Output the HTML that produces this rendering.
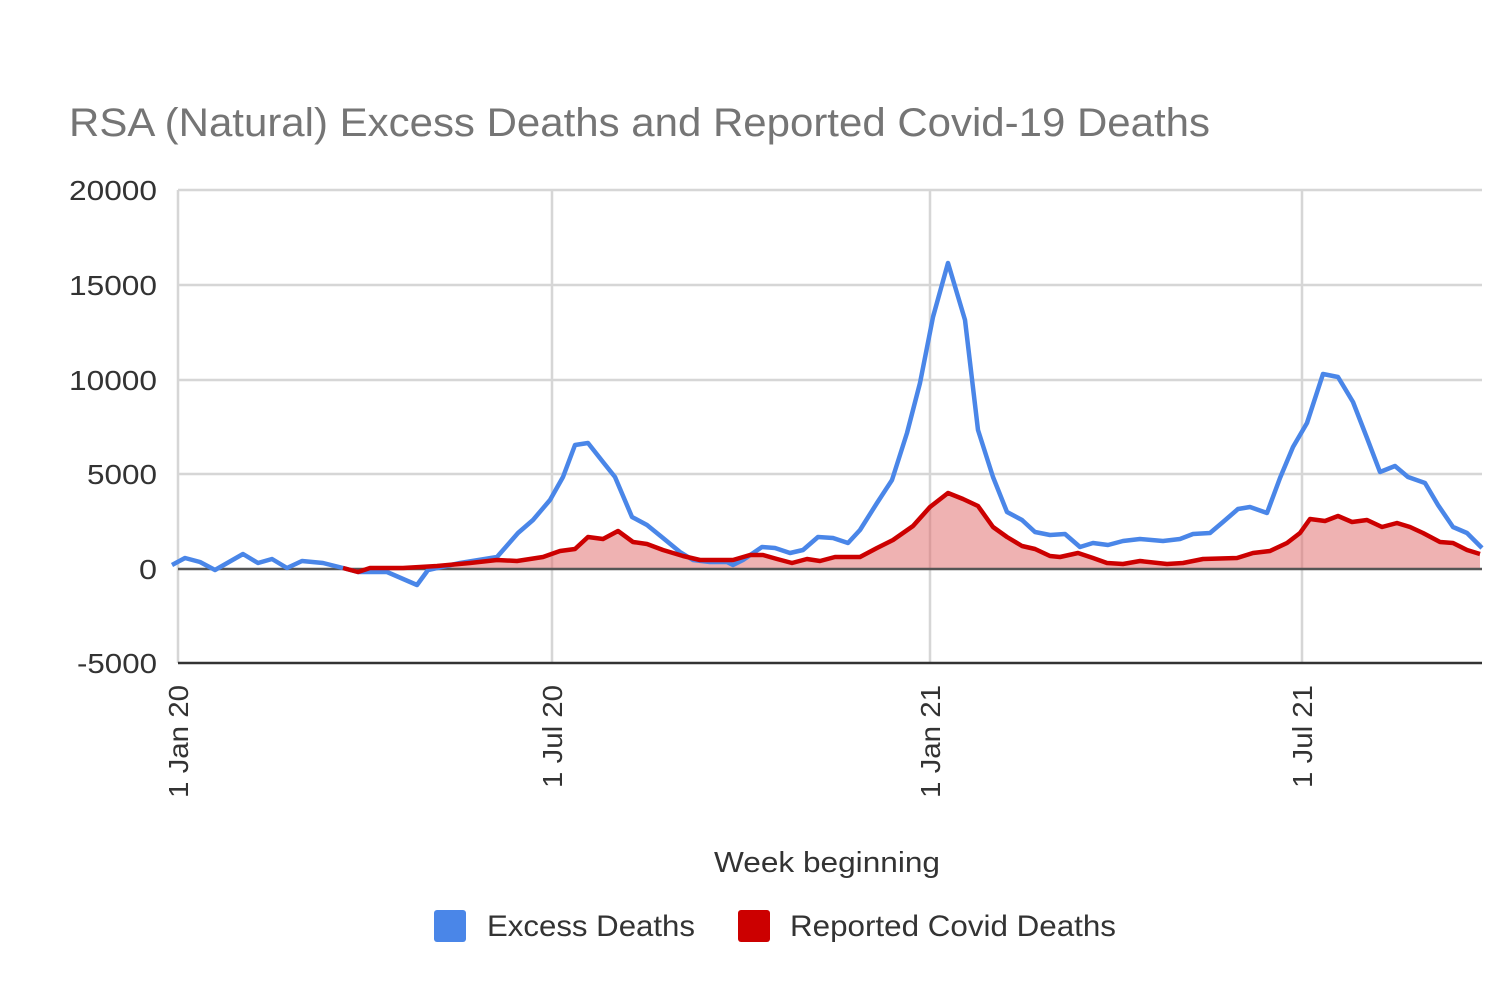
<!DOCTYPE html>
<html><head><meta charset="utf-8"><style>
body{margin:0;background:#fff;}
svg text{font-family:"Liberation Sans",Arial,sans-serif;}
</style></head><body>
<svg width="1500" height="1000" viewBox="0 0 1500 1000" xmlns="http://www.w3.org/2000/svg">
<rect width="1500" height="1000" fill="#fff"/>
<text x="69" y="136" font-size="40" fill="#757575" textLength="1141" lengthAdjust="spacingAndGlyphs">RSA (Natural) Excess Deaths and Reported Covid-19 Deaths</text>
<g stroke="#d6d6d6" stroke-width="2.5">
<line x1="178" y1="190" x2="1482" y2="190"/>
<line x1="178" y1="285" x2="1482" y2="285"/>
<line x1="178" y1="380" x2="1482" y2="380"/>
<line x1="178" y1="474" x2="1482" y2="474"/>
<line x1="178" y1="190" x2="178" y2="663"/>
<line x1="552" y1="190" x2="552" y2="663"/>
<line x1="930" y1="190" x2="930" y2="663"/>
<line x1="1302" y1="190" x2="1302" y2="663"/>
</g>
<g font-size="28" fill="#333">
<text x="69" y="200" textLength="88" lengthAdjust="spacingAndGlyphs">20000</text>
<text x="69" y="295" textLength="88" lengthAdjust="spacingAndGlyphs">15000</text>
<text x="69" y="390" textLength="88" lengthAdjust="spacingAndGlyphs">10000</text>
<text x="87" y="484" textLength="70" lengthAdjust="spacingAndGlyphs">5000</text>
<text x="139" y="579" textLength="18" lengthAdjust="spacingAndGlyphs">0</text>
<text x="77" y="673" textLength="80" lengthAdjust="spacingAndGlyphs">-5000</text>
</g>
<polygon fill="#e06666" fill-opacity="0.5" points="343,569 343,568 358,572 370,568 403,568 437,566 470,563 497,560 517,561 543,557 560,551 575,549 588,537 603,539 618,531 633,542 647,544 663,550 683,556 700,560 733,560 750,555 763,555 777,559 792,563 807,559 820,561 835,557 860,557 877,548 893,540 913,526 930,507 948,493 963,499 978,506 993,527 1007,537 1022,546 1035,549 1050,556 1060,557 1078,553 1093,558 1107,563 1123,564 1140,561 1167,564 1183,563 1203,559 1237,558 1253,553 1270,551 1287,543 1300,533 1310,519 1325,521 1338,516 1352,522 1367,520 1382,527 1397,523 1410,527 1423,533 1440,542 1453,543 1467,550 1480,554 1480,569"/>
<line x1="178" y1="569" x2="1482" y2="569" stroke="#555" stroke-width="2.5"/>
<line x1="178" y1="663" x2="1482" y2="663" stroke="#333" stroke-width="2.5"/>
<polyline fill="none" stroke="#4a86e8" stroke-width="4.5" stroke-linejoin="round" points="172,565 185,558 200,562 215,570 243,554 258,563 272,559 287,568 302,561 323,563 343,568 358,572 387,572 417,585 428,570 460,563 497,557 518,533 533,520 550,500 563,477 575,445 588,443 603,462 615,477 632,517 647,525 663,538 680,552 693,560 710,562 727,562 733,565 743,560 762,547 775,548 790,553 803,550 818,537 833,538 848,543 860,530 877,503 892,480 907,433 920,383 933,317 948,263 965,320 978,430 993,477 1007,512 1022,520 1035,532 1050,535 1065,534 1080,547 1093,543 1108,545 1123,541 1140,539 1163,541 1180,539 1193,534 1210,533 1223,522 1238,509 1250,507 1267,513 1280,478 1293,447 1307,423 1323,374 1338,377 1353,402 1367,438 1380,472 1395,466 1408,477 1425,483 1438,505 1453,527 1467,533 1482,548"/>
<polyline fill="none" stroke="#cc0000" stroke-width="4.5" stroke-linejoin="round" points="343,568 358,572 370,568 403,568 437,566 470,563 497,560 517,561 543,557 560,551 575,549 588,537 603,539 618,531 633,542 647,544 663,550 683,556 700,560 733,560 750,555 763,555 777,559 792,563 807,559 820,561 835,557 860,557 877,548 893,540 913,526 930,507 948,493 963,499 978,506 993,527 1007,537 1022,546 1035,549 1050,556 1060,557 1078,553 1093,558 1107,563 1123,564 1140,561 1167,564 1183,563 1203,559 1237,558 1253,553 1270,551 1287,543 1300,533 1310,519 1325,521 1338,516 1352,522 1367,520 1382,527 1397,523 1410,527 1423,533 1440,542 1453,543 1467,550 1480,554"/>
<g font-size="28" fill="#333">
<text transform="translate(188,798) rotate(-90)" textLength="113" lengthAdjust="spacingAndGlyphs">1 Jan 20</text>
<text transform="translate(562,788) rotate(-90)" textLength="103" lengthAdjust="spacingAndGlyphs">1 Jul 20</text>
<text transform="translate(940,798) rotate(-90)" textLength="113" lengthAdjust="spacingAndGlyphs">1 Jan 21</text>
<text transform="translate(1312,788) rotate(-90)" textLength="103" lengthAdjust="spacingAndGlyphs">1 Jul 21</text>
</g>
<text x="714" y="872" font-size="29" fill="#333" textLength="226" lengthAdjust="spacingAndGlyphs">Week beginning</text>
<rect x="434" y="910" width="32" height="32" rx="3" fill="#4a86e8"/>
<text x="487" y="936" font-size="30" fill="#333" textLength="208" lengthAdjust="spacingAndGlyphs">Excess Deaths</text>
<rect x="738" y="910" width="32" height="32" rx="3" fill="#cc0000"/>
<text x="790" y="936" font-size="30" fill="#333" textLength="326" lengthAdjust="spacingAndGlyphs">Reported Covid Deaths</text>
</svg>
</body></html>
